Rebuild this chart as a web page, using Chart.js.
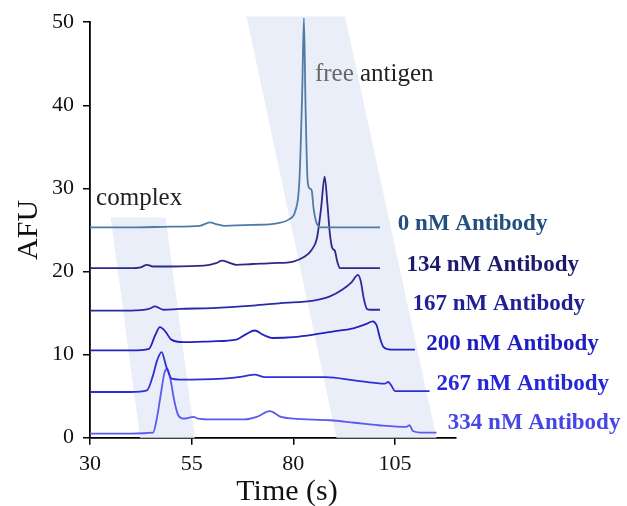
<!DOCTYPE html>
<html>
<head>
<meta charset="utf-8">
<script src="https://cdn.jsdelivr.net/npm/chart.js@4.4.1/dist/chart.umd.min.js"></script>
<style>
  html, body { margin: 0; padding: 0; background: #fff; }
  #wrap { width: 627px; height: 506px; }
</style>
</head>
<body>
<div id="wrap"><canvas id="afu"></canvas></div>
<script>
// tick labels
const xTicks = [30, 55, 80, 105];
const yTicks = [0, 10, 20, 30, 40, 50];

// series (time in s, AFU with stacking offset already in the trace)
const seriesNames = ['0 nM Antibody', '134 nM Antibody', '167 nM Antibody', '200 nM Antibody', '267 nM Antibody', '334 nM Antibody'];

const t0 = [30, 40, 50, 57, 59.5, 61, 63, 70, 76, 79, 80.5, 81.5, 82.2, 82.6, 83.0, 83.5, 84.0, 84.5, 85.0, 85.6, 86.3, 87, 90, 95, 101.3];
const y0 = [25.3, 25.3, 25.4, 25.5, 25.9, 25.7, 25.5, 25.6, 25.8, 26.3, 27.3, 31, 42, 50.5, 40, 31, 30.0, 29.8, 27.5, 26.0, 25.4, 25.3, 25.3, 25.3, 25.3];

const t134 = [30, 40, 42.5, 44, 45.5, 50, 58, 61, 62.5, 64, 66, 70, 75, 80, 82.5, 84.5, 85.8, 86.8, 87.7, 88.4, 89.0, 89.6, 90.2, 90.8, 91.5, 95, 101.3];
const y134 = [20.4, 20.4, 20.5, 20.8, 20.6, 20.6, 20.7, 21.0, 21.3, 21.1, 20.8, 20.9, 21.0, 21.2, 21.7, 22.6, 24, 27.5, 31.4, 28, 24.5, 22.8, 22.5, 21.2, 20.4, 20.4, 20.4];

const t167 = [30, 40, 44.5, 46, 48, 52, 60, 70, 77, 85, 89, 92, 94.3, 95.9, 96.6, 97.3, 98.1, 99, 101.3];
const y167 = [15.3, 15.3, 15.5, 15.8, 15.4, 15.5, 15.6, 15.9, 16.2, 16.5, 17.0, 17.8, 18.7, 19.6, 18.8, 16.8, 15.5, 15.4, 15.4];

const t200 = [30, 40, 44.5, 46, 47.2, 48.5, 50, 53, 60, 66, 68.5, 70.5, 72.5, 75, 80, 85, 90, 95, 98, 99.5, 100.5, 101.3, 102.2, 104, 109.9];
const y200 = [10.5, 10.5, 10.7, 12.3, 13.3, 12.8, 11.8, 11.5, 11.6, 11.8, 12.5, 12.9, 12.4, 12.0, 12.1, 12.4, 12.8, 13.2, 13.7, 14.0, 13.5, 12.0, 10.9, 10.6, 10.6];

const t267 = [30, 40, 44, 45.5, 46.5, 47.6, 48.8, 50.1, 52, 55, 65, 68, 70.5, 73, 80, 88, 95, 100, 102.5, 103.3, 104.2, 105, 108, 113.5];
const y267 = [5.5, 5.5, 5.7, 7.5, 9.3, 10.3, 8.5, 7.1, 7.0, 7.0, 7.2, 7.4, 7.6, 7.3, 7.3, 7.3, 6.9, 6.6, 6.5, 6.7, 6.2, 5.6, 5.6, 5.6];

const t334 = [30, 40, 45.5, 46.5, 47.5, 48.3, 49.0, 49.8, 50.7, 51.7, 53, 55.5, 56.5, 60, 68, 71, 74.2, 77, 80, 89, 95, 101, 107.8, 108.6, 109.4, 112, 115.2];
const y334 = [0.5, 0.5, 0.6, 2.5, 5.5, 7.8, 8.3, 7.0, 4.5, 2.7, 2.3, 2.5, 2.3, 2.2, 2.2, 2.5, 3.2, 2.5, 2.3, 2.1, 1.8, 1.5, 1.3, 1.5, 0.8, 0.6, 0.6];

// shaded bands, corners in (s, AFU)
const complexBand = [[35.1, 26.5], [48.6, 26.5], [55.8, 0], [42.3, 0]];
const antigenBand = [[68.5, 50.7], [92.7, 50.7], [115.2, 0], [90.6, 0]];

const times = [t0, t134, t167, t200, t267, t334];
const values = [y0, y134, y167, y200, y267, y334];
const lineColors = ['#4f7ca6', '#2b2a88', '#2a2aa6', '#2222bf', '#2e2ed9', '#5a5af0'];
const labelColors = ['#215080', '#1b1a6c', '#1f1f96', '#1d1dc2', '#2727da', '#4646e6'];
// label anchor (left, baseline) in axis units
const labelAt = [[105.7, 25.0], [107.8, 20.1], [109.3, 15.4], [112.7, 10.6], [115.2, 5.8], [118.0, 1.0]];

const serif = "'Liberation Serif', 'Times New Roman', serif";

const overlay = {
  id: 'overlay',
  beforeDatasetsDraw(chart) {
    const { ctx, scales: { x, y } } = chart;
    ctx.save();
    ctx.fillStyle = '#e9eef8';
    [complexBand, antigenBand].forEach(band => {
      ctx.beginPath();
      band.forEach((p, i) => {
        const px = x.getPixelForValue(p[0]), py = y.getPixelForValue(p[1]);
        if (i === 0) ctx.moveTo(px, py); else ctx.lineTo(px, py);
      });
      ctx.closePath();
      ctx.fill();
    });
    ctx.restore();
  },
  afterDatasetsDraw(chart) {
    const { ctx, chartArea, scales: { x, y } } = chart;
    ctx.save();
    ctx.textBaseline = 'alphabetic';
    ctx.textAlign = 'left';

    ctx.font = 'bold 23px ' + serif;
    seriesNames.forEach((name, i) => {
      ctx.fillStyle = labelColors[i];
      ctx.fillText(name, x.getPixelForValue(labelAt[i][0]), y.getPixelForValue(labelAt[i][1]));
    });

    ctx.font = '25px ' + serif;
    ctx.fillStyle = '#222';
    ctx.fillText('complex', x.getPixelForValue(31.5), y.getPixelForValue(28.05));
    const fx = x.getPixelForValue(85.3), fy = y.getPixelForValue(42.9);
    ctx.fillStyle = '#666';
    ctx.fillText('free', fx, fy);
    const w = ctx.measureText('free ').width;
    ctx.fillStyle = '#222';
    ctx.fillText('antigen', fx + w, fy);

    // axis titles
    ctx.fillStyle = '#111';
    ctx.font = '30px ' + serif;
    ctx.textAlign = 'center';
    ctx.fillText('Time (s)', 287, 500);
    ctx.translate(37, (chartArea.top + chartArea.bottom) / 2);
    ctx.rotate(-Math.PI / 2);
    ctx.fillText('AFU', 0, 0);
    ctx.restore();
  }
};

new Chart(document.getElementById('afu'), {
  type: 'line',
  data: {
    datasets: seriesNames.map((name, i) => ({
      label: name,
      data: times[i].map((t, k) => ({ x: t, y: values[i][k] })),
      borderColor: lineColors[i],
      borderWidth: 1.8,
      pointRadius: 0,
      cubicInterpolationMode: 'monotone',
      fill: false,
      clip: false
    }))
  },
  options: {
    responsive: true,
    maintainAspectRatio: false,
    animation: false,
    layout: { padding: { left: 0, right: 171, top: 21, bottom: 0 } },
    plugins: { legend: { display: false }, tooltip: { enabled: false } },
    scales: {
      x: {
        type: 'linear',
        min: 30,
        max: 120,
        afterBuildTicks: s => { s.ticks = xTicks.map(v => ({ value: v })); },
        afterFit: s => { s.height = 506 - 437.7; },
        ticks: { font: { family: serif, size: 22 }, color: '#111', padding: 6, maxRotation: 0 },
        grid: { drawOnChartArea: false, drawTicks: true, tickLength: 7, color: '#000', lineWidth: 1.5 },
        border: { display: true, color: '#000', width: 1.8 }
      },
      y: {
        min: 0,
        max: 50,
        afterBuildTicks: s => { s.ticks = yTicks.map(v => ({ value: v })); },
        afterFit: s => { s.width = 90; },
        ticks: { font: { family: serif, size: 22 }, color: '#111', padding: 9 },
        grid: { drawOnChartArea: false, drawTicks: true, tickLength: 7, color: '#000', lineWidth: 1.5 },
        border: { display: true, color: '#000', width: 1.8 }
      }
    }
  },
  plugins: [overlay]
});
</script>
</body>
</html>
